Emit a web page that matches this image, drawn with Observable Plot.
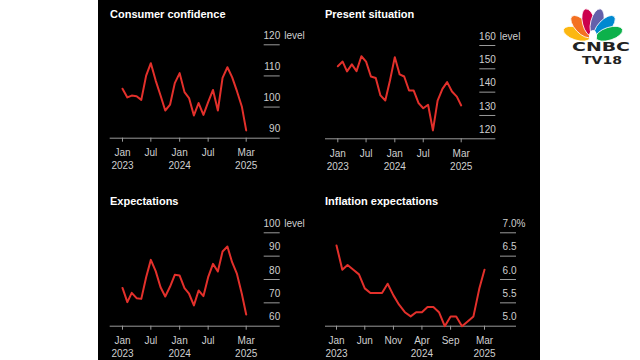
<!DOCTYPE html>
<html>
<head>
<meta charset="utf-8">
<script src="https://cdn.jsdelivr.net/npm/d3@7"></script>
<script src="https://cdn.jsdelivr.net/npm/@observablehq/plot@0.6"></script>
<style>
  html, body { margin: 0; padding: 0; background: #fff; width: 640px; height: 360px; overflow: hidden; }
  #board { position: absolute; left: 98px; top: 0; width: 442px; height: 360px; background: #000; }
  .panel { position: absolute; }
  .panel svg { overflow: visible; }
  .title { position: absolute; color: #fff; font: bold 11px "Liberation Sans", Arial, sans-serif; white-space: nowrap; line-height: 1; }
  #logo { position: absolute; left: 560px; top: 0; }
</style>
</head>
<body>
<div id="board"></div>
<div id="charts"></div>
<svg id="logo" width="80" height="70" viewBox="560 0 80 70"></svg>
<script>
// ---------- data ----------
const months = ["2023-01","2023-02","2023-03","2023-04","2023-05","2023-06","2023-07","2023-08","2023-09","2023-10","2023-11","2023-12",
                "2024-01","2024-02","2024-03","2024-04","2024-05","2024-06","2024-07","2024-08","2024-09","2024-10","2024-11","2024-12",
                "2025-01","2025-02","2025-03"];
const consumerConfidence = [105.9,103.1,103.7,103.5,102.3,110.1,114.1,108.5,103.7,98.9,100.8,107.7,
                            110.9,104.8,102.9,97.3,101.3,97.5,101.6,105.5,98.9,109.4,112.8,109.6,
                            105.1,100.2,92.5];
const presentSituation = [151.1,153.1,148.9,151.9,149.0,155.4,153.1,146.7,146.1,138.6,136.4,145.0,
                          155.0,147.6,146.7,140.7,140.7,135.3,133.1,134.6,123.6,136.4,141.4,144.3,
                          140.3,138.1,134.3];
const expectations = [76.4,70.3,74.3,72.0,71.7,81.0,88.4,83.6,76.7,72.7,77.0,82.0,
                      81.7,76.3,73.9,68.9,75.3,72.9,81.0,86.7,83.4,92.0,94.1,87.4,
                      82.4,73.9,65.0];
const inflationExpectations = [6.73,6.21,6.31,6.21,6.11,5.81,5.71,5.71,5.71,5.91,5.66,5.46,
                               5.30,5.21,5.30,5.30,5.41,5.41,5.30,5.00,5.21,5.21,5.00,5.10,
                               5.21,5.80,6.21];
const titles = ["Consumer confidence", "Present situation", "Expectations", "Inflation expectations"];
const ccTicks = [90, 100, 110, 120];
const psTicks = [120, 130, 140, 150, 160];
const exTicks = [60, 70, 80, 90, 100];
const ieTicks = [5.0, 5.5, 6.0, 6.5, 7.0];
const sixMonthTicks = [["2023-01","Jan","2023"],["2023-07","Jul",""],["2024-01","Jan","2024"],["2024-07","Jul",""],["2025-03","Mar","2025"]];
const fiveMonthTicks = [["2023-01","Jan","2023"],["2023-06","Jun",""],["2023-11","Nov",""],["2024-04","Apr","2024"],["2024-09","Sep",""],["2025-03","Mar","2025"]];

// ---------- drawing ----------
const RED = "#e3302b";
const GRID = "#9a9a9a";
const LABEL = "#cfcfcf";
const FONT = '"Liberation Sans", Arial, sans-serif';
const toDate = (m) => new Date(m + "-01T00:00:00Z");

function panel(cfg) {
  const data = months.map((m, i) => ({date: toDate(m), v: cfg.values[i]}));
  const xticks = cfg.xTicks.map(([m, mo, yr]) => ({date: toDate(m), mo, yr}));
  const dom = [toDate(months[0]), toDate(months[months.length - 1])];
  const ymin = cfg.yTicks[0], ymax = cfg.yTicks[cfg.yTicks.length - 1];
  const frameRight = cfg.width - cfg.mr;
  const xs = d3.scaleUtc().domain(dom).range(cfg.xRange);
  const g1 = xs.invert(frameRight - 16), g2 = xs.invert(frameRight);
  const chart = Plot.plot({
    width: cfg.width, height: cfg.height,
    marginLeft: cfg.ml, marginRight: cfg.mr, marginTop: cfg.mt, marginBottom: cfg.mb,
    style: {background: "transparent", color: LABEL, fontFamily: FONT, fontSize: "10px", overflow: "visible"},
    x: {type: "utc", domain: dom, range: cfg.xRange},
    y: {domain: [ymin, ymax], axis: null},
    marks: [
      Plot.ruleY(cfg.yTicks.slice(1), {y: d => d, x1: () => g1, x2: () => g2, stroke: GRID, strokeWidth: 1}),
      Plot.ruleY([ymin], {stroke: GRID, strokeWidth: 1}),
      Plot.axisX(xticks.map(d => d.date), {tickSize: 4, tickFormat: () => "", stroke: GRID, label: null}),
      Plot.text(xticks, {x: "date", y: () => ymin, text: "mo", dy: 15, fill: LABEL, fontSize: 10}),
      Plot.text(xticks, {x: "date", y: () => ymin, text: "yr", dy: 27.5, fill: LABEL, fontSize: 10}),
      Plot.text(cfg.yTicks, {y: d => d, text: cfg.fmt, frameAnchor: "right", textAnchor: "end", dy: -9, fill: LABEL, fontSize: 10}),
      Plot.text([ymax], {y: d => d, text: () => cfg.suffix, frameAnchor: "right", textAnchor: "start", dx: cfg.suffixDx, dy: -9, fill: LABEL, fontSize: 10}),
      Plot.line(data, {x: "date", y: "v", stroke: RED, strokeWidth: 2, strokeLinejoin: "round", strokeLinecap: "round"})
    ]
  });
  const div = document.createElement("div");
  div.className = "panel";
  div.style.left = cfg.left + "px";
  div.style.top = cfg.top + "px";
  div.appendChild(chart);
  document.getElementById("charts").appendChild(div);
  const t = document.createElement("div");
  t.className = "title";
  t.textContent = cfg.title;
  t.style.left = cfg.titleX + "px";
  t.style.top = cfg.titleY + "px";
  document.body.appendChild(t);
}

panel({title: titles[0], titleX: 110, titleY: 9, values: consumerConfidence, yTicks: ccTicks, fmt: d => String(d), suffix: "level", suffixDx: 4,
       xTicks: sixMonthTicks, left: 98, top: 0, width: 212, height: 180, ml: 11.7, mr: 30.3, mt: 44.3, mb: 42.3, xRange: [24, 147.7]});
panel({title: titles[1], titleX: 325, titleY: 9, values: presentSituation, yTicks: psTicks, fmt: d => String(d), suffix: "level", suffixDx: 4,
       xTicks: sixMonthTicks, left: 310, top: 0, width: 230, height: 180, ml: 15, mr: 44.7, mt: 45, mb: 41.7, xRange: [27.3, 150.7]});
panel({title: titles[2], titleX: 110, titleY: 196, values: expectations, yTicks: exTicks, fmt: d => String(d), suffix: "level", suffixDx: 4,
       xTicks: sixMonthTicks, left: 98, top: 180, width: 212, height: 180, ml: 11.7, mr: 30.3, mt: 52.3, mb: 34.3, xRange: [24, 147.7]});
panel({title: titles[3], titleX: 325, titleY: 196, values: inflationExpectations, yTicks: ieTicks, fmt: d => d.toFixed(1), suffix: "%", suffixDx: 0,
       xTicks: fiveMonthTicks, left: 310, top: 180, width: 230, height: 180, ml: 15, mr: 24, mt: 52.3, mb: 34.3, xRange: [26, 174]});

// ---------- logo (decorative) ----------
(function () {
  const svg = d3.select("#logo");
  const cx = 593, cy = 39;
  const cols = ["#fcb711", "#f37021", "#cc004c", "#6460aa", "#0089d0", "#0db14b"];
  const angs = [-72, -43, -14, 14, 43, 72];
  cols.forEach((c, i) => {
    svg.append("ellipse").attr("cx", cx).attr("cy", cy - 17).attr("rx", 6.4).attr("ry", 14)
      .attr("fill", c).attr("stroke", "#fff").attr("stroke-width", 0.8)
      .attr("transform", `rotate(${angs[i]},${cx},${cy})`);
  });
  svg.append("ellipse").attr("cx", cx).attr("cy", cy - 3).attr("rx", 4).attr("ry", 6).attr("fill", "#fff");
  svg.append("text").attr("x", 601).attr("y", 50.5).attr("text-anchor", "middle")
    .attr("font-family", '"DejaVu Sans", sans-serif').attr("font-weight", "bold").attr("font-size", 12)
    .attr("textLength", 58).attr("lengthAdjust", "spacingAndGlyphs").attr("fill", "#222").text("CNBC");
  svg.append("text").attr("x", 602).attr("y", 64).attr("text-anchor", "middle")
    .attr("font-family", '"DejaVu Sans", sans-serif').attr("font-weight", "bold").attr("font-size", 10.5)
    .attr("textLength", 40).attr("lengthAdjust", "spacingAndGlyphs").attr("fill", "#222").text("TV18");
})();
</script>
</body>
</html>
